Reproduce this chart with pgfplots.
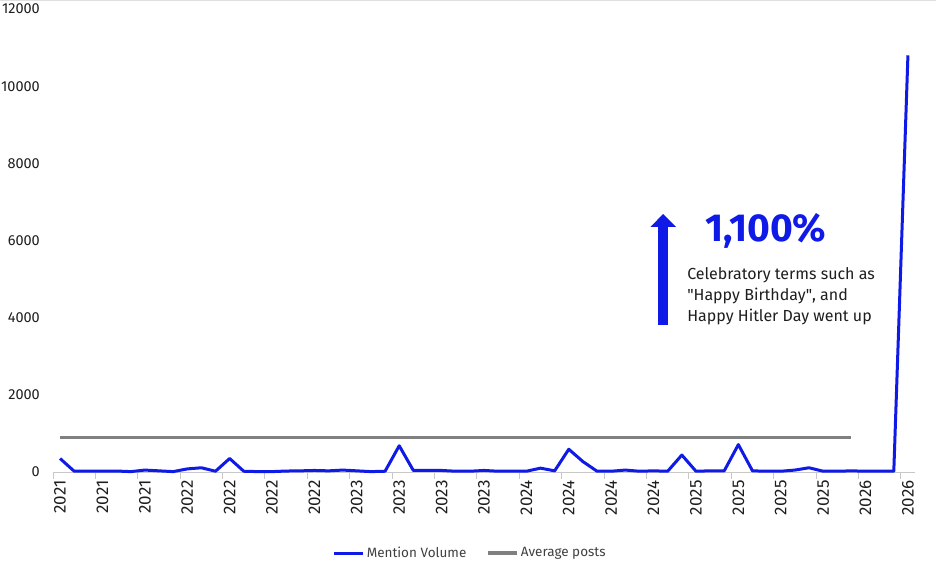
\documentclass[border=0pt]{standalone}
\usepackage{fontspec}
\setmainfont{Fira Sans}
\usepackage{pgfplots}
\usepackage{pgfplotstable}
\pgfplotsset{compat=1.18}
\usetikzlibrary{arrows.meta}
\definecolor{lineblue}{RGB}{16,26,230}
\definecolor{avggray}{RGB}{128,128,128}
\definecolor{axgray}{RGB}{200,200,200}
\definecolor{txt}{RGB}{30,30,30}
\pgfplotstableread{
i v
0 350
1 20
2 20
3 20
4 25
5 10
6 50
7 30
8 10
9 80
10 110
11 20
12 350
13 20
14 10
15 10
16 25
17 30
18 40
19 30
20 50
21 30
22 10
23 20
24 680
25 40
26 40
27 40
28 20
29 20
30 40
31 20
32 20
33 20
34 100
35 30
36 590
37 270
38 20
39 20
40 50
41 20
42 30
43 20
44 440
45 20
46 30
47 30
48 710
49 30
50 20
51 20
52 50
53 110
54 20
55 20
56 30
57 20
58 20
59 20
60 10800
}\mentions
\begin{document}
\begin{tikzpicture}
\begin{axis}[
  scale only axis,
  width=862pt, height=463pt,
  xmin=-0.5, xmax=60.5,
  ymin=0, ymax=12000,
  clip=false,
  axis x line*=bottom,
  axis y line*=left,
  y axis line style={draw=none},
  x axis line style={draw=axgray, line width=1pt},
  xtick={0,3,...,60},
  xticklabels={2021,2021,2021,2022,2022,2022,2022,2023,2023,2023,2023,2024,2024,2024,2024,2025,2025,2025,2025,2026,2026},
  major x tick style={draw=none},
  minor xtick={-0.5,2.5,...,60},
  minor x tick style={draw=axgray, line width=1pt},
  minor tick length=6.5pt,
  xtick align=outside,
  ytick={0,2000,...,12000},
  ytick style={draw=none},
  scaled y ticks=false,
  /pgf/number format/assume math mode=true,
  yticklabel={\pgfmathprintnumber[fixed,1000 sep={}]{\tick}},
  yticklabel style={anchor=east, inner sep=0pt, xshift=-13pt, font=\fontsize{14.5}{16}\selectfont, text=txt},
  xticklabel style={rotate=90, anchor=east, inner sep=0pt, xshift=2pt, font=\fontsize{17}{18}\selectfont, text=txt},
  xticklabel shift=6pt,
  legend style={at={(0.484,-0.175)}, anchor=center, draw=none, fill=none,
    font=\fontsize{13.5}{15}\selectfont, text=txt!85,
    /tikz/every even column/.append style={column sep=18pt}},
  legend columns=2,
  legend cell align=left,
  legend image code/.code={\draw[#1] (0pt,0pt) -- (29pt,0pt);},
]
\addplot[lineblue, line width=3pt, line join=round] table[x=i, y=v] {\mentions};
\addlegendentry{Mention Volume}
\addplot[avggray, line width=3.5pt] coordinates {(0,900) (56,900)};
\addlegendentry{Average posts}
\draw[lineblue, line width=10pt, -{Triangle[width=25pt,length=13pt]}] (axis cs:42.68,3810) -- (axis cs:42.68,6687);
\node[text=lineblue, font=\fontsize{39}{44}\bfseries\selectfont, anchor=center, inner sep=0pt] at (axis cs:49.96,6260) {1,100\%};
\node[text=txt, font=\fontsize{16}{21}\selectfont, align=left, anchor=west, inner sep=0pt] at (axis cs:44.37,4560) {Celebratory terms such as\\\textquotedbl Happy Birthday\textquotedbl, and\\Happy Hitler Day went up};
\end{axis}
\draw[gray!25, line width=1pt] (-53pt,471.5pt) -- (883pt,471.5pt);
\pgfresetboundingbox
\path[use as bounding box] (-53pt,-101pt) rectangle (883pt,472pt);
\end{tikzpicture}
\end{document}
